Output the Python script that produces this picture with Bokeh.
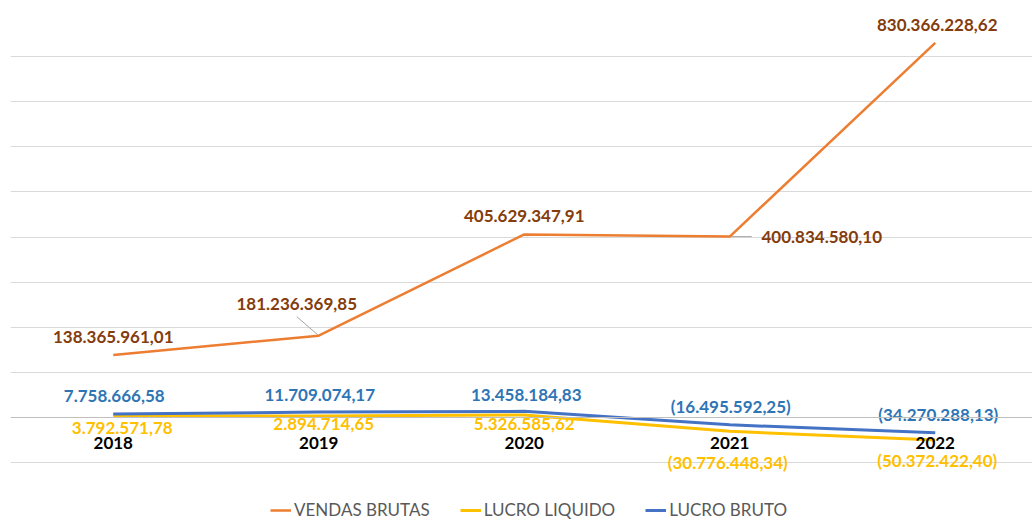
from bokeh.plotting import figure
from bokeh.models import (ColumnDataSource, Range1d, FixedTicker, Legend, LegendItem)
from bokeh.core.properties import value
from bokeh.embed import file_html
from bokeh.resources import INLINE

# ---- data ----
years = ["2018", "2019", "2020", "2021", "2022"]
vendas_brutas = [138365961.01, 181236369.85, 405629347.91, 400834580.10, 830366228.62]
lucro_liquido = [3792571.78, 2894714.65, 5326585.62, -30776448.34, -50372422.40]
lucro_bruto = [7758666.58, 11709074.17, 13458184.83, -16495592.25, -34270288.13]
y_ticks = [-100e6, 0, 100e6, 200e6, 300e6, 400e6, 500e6, 600e6, 700e6, 800e6, 900e6]

# label offsets in screen pixels (style, not data)
vb_dx = [0, -22, 0, 92, 2]
vb_dy = [-18, -32, -18, 0, -18]
ll_dx = [9, 5, 0, -2, 2]
ll_dy = [12, 8, 9, 31, 20]
lb_dx = [1, 1, 2, 1, 3]
lb_dy = [-18, -17, -16, -18, -18]

# leader lines for the two shifted "VENDAS BRUTAS" labels (pixel offsets of the leader end)
leader_idx = [1, 3]
leader_dx = [-22, 22]
leader_dy = [-19, 0]

PX_X = 205.5                 # pixels per category
PX_Y = 451 / 1000e6          # pixels per unit value


def fmt(v):
    s = f"{abs(v):,.2f}".replace(",", "X").replace(".", ",").replace("X", ".")
    return f"({s})" if v < 0 else s


xs = list(range(len(years)))

FONT = "Lato"
W, H = 1032, 522
LEFT, TOP = 10, 11
p = figure(width=W, height=H, output_backend="svg", toolbar_location=None,
           x_range=Range1d(-0.5, -0.5 + (W - LEFT) / PX_X),
           y_range=Range1d(-100e6 - (H - 462) / PX_Y, 900e6),
           min_border_left=LEFT, min_border_right=0, min_border_top=TOP, min_border_bottom=0)
p.outline_line_color = None
p.background_fill_color = "white"
p.border_fill_color = "white"

p.yaxis.visible = False
p.ygrid.ticker = FixedTicker(ticks=y_ticks)
p.ygrid.grid_line_color = "#D9D9D9"
p.ygrid.grid_line_width = 1
p.xgrid.visible = False

ax = p.xaxis[0]
ax.fixed_location = 0
ax.ticker = FixedTicker(ticks=xs)
ax.major_label_overrides = {i: y for i, y in enumerate(years)}
ax.axis_line_color = "#BFBFBF"
ax.axis_line_width = 1
ax.major_tick_line_color = None
ax.minor_tick_line_color = None
ax.major_label_text_font = FONT
ax.major_label_text_font_style = "bold"
ax.major_label_text_font_size = "17px"
ax.major_label_text_color = "black"
ax.major_label_standoff = 14

src = ColumnDataSource(dict(x=xs, vb=vendas_brutas, ll=lucro_liquido, lb=lucro_bruto,
                            vb_t=[fmt(v) for v in vendas_brutas],
                            ll_t=[fmt(v) for v in lucro_liquido],
                            lb_t=[fmt(v) for v in lucro_bruto],
                            vb_dx=vb_dx, vb_dy=vb_dy, ll_dx=ll_dx, ll_dy=ll_dy,
                            lb_dx=lb_dx, lb_dy=lb_dy))

# leader lines
p.segment(x0=[xs[i] for i in leader_idx], y0=[vendas_brutas[i] for i in leader_idx],
          x1=[xs[i] + dx / PX_X for i, dx in zip(leader_idx, leader_dx)],
          y1=[vendas_brutas[i] - dy / PX_Y for i, dy in zip(leader_idx, leader_dy)],
          line_color="#A6A6A6", line_width=1)

r_vb = p.line("x", "vb", source=src, line_color="#ED7D31", line_width=2.5)
r_ll = p.line("x", "ll", source=src, line_color="#FFC000", line_width=3)
r_lb = p.line("x", "lb", source=src, line_color="#4472C4", line_width=3)

for col, color in (("vb", "#843C0C"), ("ll", "#FFC000"), ("lb", "#2E75B6")):
    p.text(x="x", y=col, text=col + "_t", source=src, x_offset=col + "_dx", y_offset=col + "_dy",
           text_align="center", text_baseline="middle", text_color=color,
           text_font=value(FONT), text_font_style="bold", text_font_size="17px")

legend = Legend(items=[LegendItem(label="VENDAS BRUTAS", renderers=[r_vb]),
                       LegendItem(label="LUCRO LIQUIDO", renderers=[r_ll]),
                       LegendItem(label="LUCRO BRUTO", renderers=[r_lb])],
                orientation="horizontal", location=(260, 2),
                label_text_font=FONT, label_text_font_size="17px", label_text_color="#595959",
                glyph_width=21, glyph_height=16, label_standoff=3, spacing=30,
                padding=0, margin=0, border_line_color=None, background_fill_alpha=0)
p.add_layout(legend)

open("out.html", "w").write(file_html(p, INLINE))
